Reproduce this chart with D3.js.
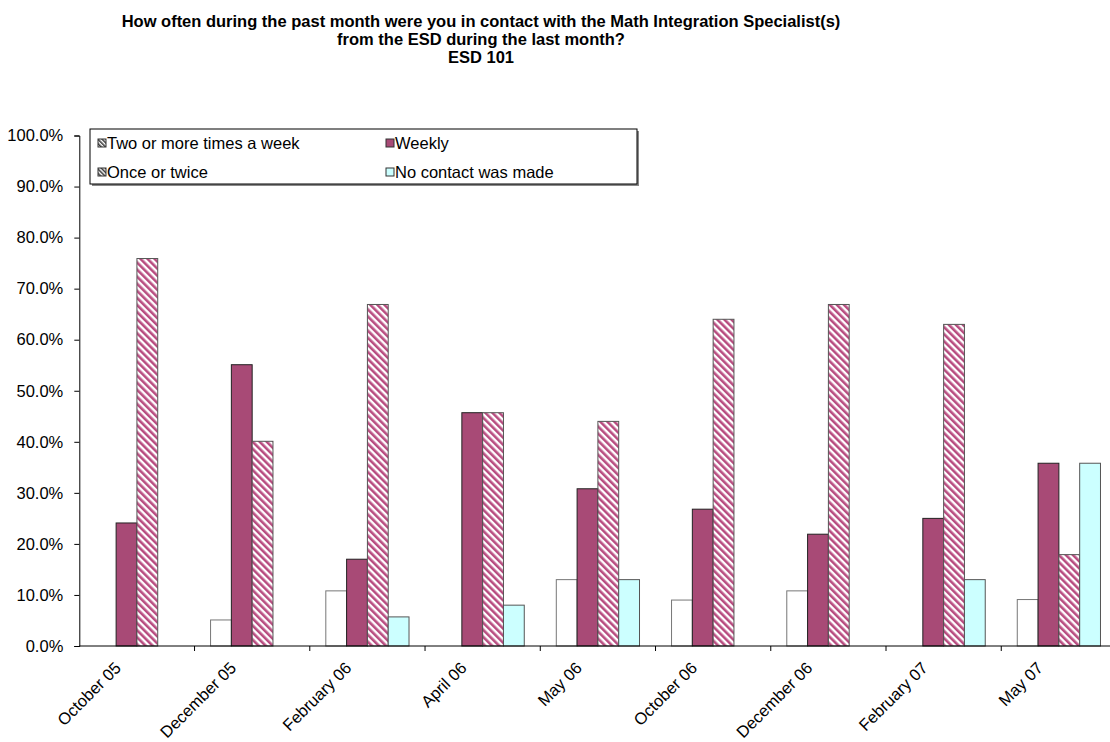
<!DOCTYPE html>
<html><head><meta charset="utf-8">
<script src="https://cdn.jsdelivr.net/npm/d3@7"></script>
<style>body{margin:0;background:#fff}svg{display:block;font-family:"Liberation Sans",Arial,sans-serif}</style>
</head><body><svg id="c" width="1110" height="742"></svg>
<script>
const categories = ["October 05","December 05","February 06","April 06","May 06","October 06","December 06","February 07","May 07"];
const seriesNames = ["Two or more times a week","Weekly","Once or twice","No contact was made"];
const twoOrMore = [0, 5.1, 10.8, 0, 13.0, 9.0, 10.8, 0, 9.1];
const weekly    = [24.1, 55.1, 17.0, 45.7, 30.8, 26.8, 21.9, 25.0, 35.8];
const onceTwice = [75.9, 40.1, 66.9, 45.7, 44.0, 64.0, 66.9, 63.0, 17.9];
const noContact = [0, 0, 5.7, 8.0, 13.0, 0, 0, 13.0, 35.8];
const yTicks = [0,10,20,30,40,50,60,70,80,90,100];
const titleLines = ["How often during the past month were you in contact with the Math Integration Specialist(s)","from the ESD during the last month?","ESD 101"];

const FS = 16.5;
const svg = d3.select("#c");
const defs = svg.append("defs");
const hatch = defs.append("pattern").attr("id","hatch").attr("patternUnits","userSpaceOnUse")
  .attr("width",5).attr("height",5).attr("patternTransform","rotate(-45)");
hatch.append("rect").attr("width",5).attr("height",5).attr("fill","#fff");
hatch.append("rect").attr("width",2.6).attr("height",5).attr("fill","#b84c80");
const lg = defs.append("pattern").attr("id","lgd").attr("patternUnits","userSpaceOnUse")
  .attr("width",3).attr("height",3).attr("patternTransform","rotate(-45)");
lg.append("rect").attr("width",3).attr("height",3).attr("fill","#fff");
lg.append("rect").attr("width",1.5).attr("height",3).attr("fill","#333");

const x0 = 79.3, x1 = 1116.5, yTop = 135.5, yBot = 646;
const x = d3.scaleBand().domain(categories).range([x0,x1]).paddingInner(0).paddingOuter(0);
const xs = d3.scaleBand().domain(seriesNames).range([0,x.bandwidth()]).paddingOuter(0.77).paddingInner(0);
const y = d3.scaleLinear().domain([0,100]).range([yBot,yTop]);

const fills = ["#ffffff","#a84a76","url(#hatch)","#ccffff"];
const strokes = ["#777","#222","#555","#555"];
const data = [twoOrMore, weekly, onceTwice, noContact];

// title
svg.append("g").selectAll("text").data(titleLines).join("text")
  .attr("x",481).attr("y",(d,i)=>27+i*18).attr("text-anchor","middle")
  .attr("font-weight","bold").attr("font-size",16.5).text(d=>d);

// bars
const g = svg.append("g");
categories.forEach((c,ci)=>{
  seriesNames.forEach((s,si)=>{
    const v = data[si][ci];
    if(v<=0) return;
    g.append("rect").attr("x",x(c)+xs(s)).attr("width",xs.bandwidth())
      .attr("y",y(v)).attr("height",yBot-y(v))
      .attr("fill",fills[si]).attr("stroke",strokes[si]).attr("stroke-width",1);
  });
});

// y axis
const ya = svg.append("g").attr("transform",`translate(${x0},0)`)
  .call(d3.axisLeft(y).tickValues(yTicks).tickSize(5).tickFormat(d=>d.toFixed(1)+"%"));
ya.select(".domain").attr("stroke","#000");
ya.selectAll(".tick line").attr("stroke","#000");
ya.selectAll("text").attr("font-size",FS).attr("fill","#000").attr("x",-16)
  .attr("font-family","'Liberation Sans',Arial,sans-serif");

// x axis
svg.append("line").attr("x1",x0).attr("x2",1110).attr("y1",yBot).attr("y2",yBot).attr("stroke","#000");
svg.append("g").selectAll("line").data(categories.slice(1)).join("line")
  .attr("x1",d=>x(d)).attr("x2",d=>x(d)).attr("y1",yBot).attr("y2",yBot+5).attr("stroke","#000");
svg.append("g").selectAll("text").data(categories).join("text")
  .attr("transform",d=>`translate(${x(d)+x.bandwidth()/2-15},${yBot+23}) rotate(-45)`)
  .attr("text-anchor","end").attr("font-size",FS).text(d=>d);

// legend
const L = {x:90, y:129, w:547, h:55};
svg.append("rect").attr("x",L.x+2).attr("y",L.y+2).attr("width",L.w).attr("height",L.h).attr("fill","#888");
svg.append("rect").attr("x",L.x).attr("y",L.y).attr("width",L.w).attr("height",L.h).attr("fill","#fff").attr("stroke","#000");
const lfill = ["url(#lgd)","#a84a76","url(#lgd)","#ccffff"];
const lpos = [[98,143],[386,143],[98,172],[386,172]];
seriesNames.forEach((s,i)=>{
  const [lx,ly] = lpos[i];
  svg.append("rect").attr("x",lx).attr("y",ly-4).attr("width",8).attr("height",8)
    .attr("fill",lfill[i]).attr("stroke","#333");
  svg.append("text").attr("x",lx+9).attr("y",ly+6).attr("font-size",FS).text(s);
});
</script></body></html>
